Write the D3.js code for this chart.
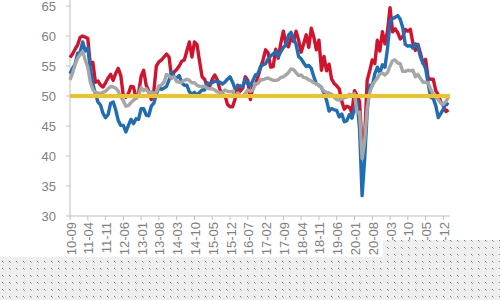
<!DOCTYPE html>
<html>
<head>
<meta charset="utf-8">
<script src="https://cdn.jsdelivr.net/npm/d3@7"></script>
<style>
  body { margin: 0; background: #fff; }
  svg { display: block; font-family: "Liberation Sans", Arial, sans-serif; }
</style>
</head>
<body>
<div id="chart"></div>
<script>
// monthly values, 2010-09 .. 2023-02
var red = [
  56.4, 57.0, 57.8, 58.5,
  59.8, 60.0, 59.8, 59.6, 55.2, 55.6, 52.3, 52.5, 51.8, 51.5, 52.2, 53.0,
  53.6, 52.6, 53.8, 54.6, 53.4, 50.0, 49.8, 50.4, 51.6, 51.5, 49.6, 50.4,
  53.3, 54.3, 51.8, 50.8, 49.4, 50.8, 55.0, 55.7, 56.0, 56.5, 57.0, 56.5,
  53.0, 54.0, 54.4, 55.0, 55.8, 56.0, 57.5, 59.0, 56.5, 59.0, 58.6, 55.8,
  53.2, 52.8, 51.6, 51.6, 52.8, 53.5, 52.7, 51.1, 50.2, 50.1, 48.6, 48.2,
  48.2, 49.5, 51.8, 50.8, 51.3, 53.2, 52.6, 49.4, 51.5, 51.9, 53.2, 54.7,
  56.0, 57.7, 57.2, 54.8, 54.9, 57.8, 56.3, 58.8, 60.8, 58.7, 58.2, 59.7,
  59.1, 60.8, 59.3, 57.3, 58.7, 60.2, 58.1, 61.3, 59.8, 57.7, 59.3, 54.3,
  56.6, 54.2, 55.3, 52.8, 52.1, 51.7, 51.2, 49.1, 47.8, 48.3, 48.1, 47.2,
  50.9, 50.1, 49.1, 41.5, 43.1, 52.6, 54.2, 56.0, 55.4, 59.3, 57.5, 60.7,
  58.7, 60.8, 64.7, 60.7, 61.2, 60.6, 59.5, 59.9, 61.1, 60.8, 61.1, 58.8,
  57.6, 58.6, 57.1, 55.4, 56.1, 53.0, 52.8, 52.8, 50.9, 50.2, 49.0, 48.4,
  47.4, 47.7
];
var blue = [
  53.7, 54.6, 55.3, 57.1,
  57.3, 59.0, 57.5, 58.0, 54.6, 52.0, 50.4, 49.0, 48.5, 47.1, 46.4, 46.9,
  48.8, 49.0, 47.7, 45.9, 45.1, 45.1, 44.0, 45.1, 46.1, 45.4, 46.2, 46.1,
  47.9, 47.9, 46.8, 46.7, 48.3, 48.8, 50.3, 51.4, 51.1, 51.3, 51.6, 52.7,
  54.0, 53.2, 53.0, 53.4, 52.2, 51.8, 51.8, 50.7, 50.3, 50.6, 50.1, 50.6,
  51.0, 51.0, 52.2, 52.0, 52.2, 52.5, 52.4, 52.3, 52.0, 52.3, 52.8, 53.2,
  52.3, 51.2, 51.6, 51.7, 51.5, 52.8, 52.0, 51.7, 52.6, 53.5, 53.7, 54.9,
  55.2, 55.4, 56.2, 56.7, 57.0, 57.4, 56.6, 57.4, 58.1, 58.5, 60.1, 60.6,
  59.6, 58.6, 56.6, 56.2, 55.5, 54.9, 55.1, 54.6, 53.2, 52.0, 51.8, 51.4,
  50.5, 49.3, 47.5, 47.9, 47.7, 47.6, 46.5, 47.0, 45.7, 45.9, 46.9, 46.3,
  47.9, 49.2, 44.5, 33.4, 39.4, 47.4, 51.8, 51.7, 53.7, 54.8, 53.8, 55.2,
  54.8, 57.9, 62.5, 62.9, 63.1, 63.4, 62.8, 61.4, 58.6, 58.3, 58.4, 58.0,
  58.7, 58.2, 56.5, 55.5, 54.6, 52.1, 49.8, 49.6, 48.4, 46.4, 47.1, 47.8,
  48.8, 48.5
];
var grey = [
  52.7, 53.8, 55.2, 56.3,
  56.9, 57.4, 56.0, 54.8, 52.3, 51.1, 50.6, 50.5, 50.4, 50.6, 50.8, 51.2,
  51.6, 51.5, 51.3, 50.8, 49.9, 49.2, 48.3, 48.4, 48.9, 49.3, 49.6, 50.1,
  51.4, 50.9, 51.2, 50.5, 50.7, 50.4, 50.7, 51.7, 51.8, 52.3, 53.6, 53.3,
  53.0, 53.2, 52.4, 52.3, 52.3, 52.6, 52.8, 52.6, 52.2, 52.2, 51.8, 51.6,
  51.6, 51.6, 51.3, 51.2, 51.2, 51.0, 50.7, 50.6, 50.6, 51.0, 50.8, 50.7,
  50.8, 50.0, 50.5, 50.1, 50.0, 50.4, 51.0, 50.8, 51.0, 52.0, 52.1, 52.7,
  52.7, 52.9, 53.0, 52.8, 52.6, 52.6, 52.7, 53.1, 53.2, 53.5, 53.9, 54.5,
  54.4, 53.9, 53.4, 53.5, 53.1, 53.0, 52.7, 52.5, 52.2, 52.0, 51.8, 51.4,
  50.8, 50.6, 50.5, 50.3, 49.8, 49.4, 49.3, 49.5, 49.7, 49.8, 50.3, 50.1,
  50.4, 47.2, 47.3, 39.6, 42.4, 47.9, 50.6, 51.8, 52.4, 53.0, 53.7, 53.8,
  53.5, 53.9, 55.0, 55.9, 56.0, 55.5, 55.4, 54.1, 54.1, 54.3, 54.2, 54.3,
  53.2, 53.6, 52.9, 52.3, 52.3, 52.2, 51.1, 50.3, 49.8, 49.4, 48.8, 48.6,
  49.1, 49.9
];
var refLevel = 50;
var yTicks = [30, 35, 40, 45, 50, 55, 60, 65];
var xTickLabels = ["10-09", "11-04", "11-11", "12-06", "13-01", "13-08", "14-03",
  "14-10", "15-05", "15-12", "16-07", "17-02", "17-09", "18-04", "18-11", "19-06",
  "20-01", "20-08", "21-03", "21-10", "22-05", "22-12"];
var tickStep = 7; // months between labels

var width = 500, height = 300;

var svg = d3.select("#chart").append("svg")
  .attr("width", width)
  .attr("height", height);

var x = d3.scaleLinear().domain([0, 150]).range([70, 451]);
var y = d3.scaleLinear().domain([30, 65]).range([216, 6]);

var axisColor = "#bfbfbf";
var textColor = "#808080";

// y axis
svg.append("line")
  .attr("x1", 70).attr("x2", 70)
  .attr("y1", 0).attr("y2", y(30))
  .attr("stroke", axisColor).attr("stroke-width", 1);

svg.selectAll(".ytick")
  .data(yTicks)
  .enter().append("line")
  .attr("x1", 66).attr("x2", 70)
  .attr("y1", d => y(d)).attr("y2", d => y(d))
  .attr("stroke", axisColor);

svg.selectAll(".ylabel")
  .data(yTicks)
  .enter().append("text")
  .attr("x", 56)
  .attr("y", d => y(d))
  .attr("text-anchor", "end")
  .attr("dominant-baseline", "central")
  .attr("font-size", "13px")
  .attr("fill", textColor)
  .text(d => d);

// x axis
svg.append("line")
  .attr("x1", 70).attr("x2", 450)
  .attr("y1", y(30)).attr("y2", y(30))
  .attr("stroke", axisColor);

svg.selectAll(".xtick")
  .data(xTickLabels)
  .enter().append("line")
  .attr("x1", (d, i) => x(i * tickStep)).attr("x2", (d, i) => x(i * tickStep))
  .attr("y1", y(30)).attr("y2", y(30) + 4)
  .attr("stroke", axisColor);

svg.selectAll(".xlabel")
  .data(xTickLabels)
  .enter().append("text")
  .attr("transform", (d, i) => `translate(${x(i * tickStep) + 1},${y(30) + 6}) rotate(-90)`)
  .attr("text-anchor", "end")
  .attr("dominant-baseline", "central")
  .attr("font-size", "13px")
  .attr("fill", textColor)
  .text(d => d);

// series
var line = d3.line()
  .x((d, i) => x(i))
  .y(d => y(d));

var series = [
  { values: red, color: "#d2132d" },
  { values: blue, color: "#1f6db4" },
  { values: grey, color: "#a6a6a6" }
];

svg.selectAll(".series")
  .data(series)
  .enter().append("path")
  .attr("d", d => line(d.values))
  .attr("fill", "none")
  .attr("stroke", d => d.color)
  .attr("stroke-width", 3.4)
  .attr("stroke-linejoin", "round");

svg.append("line")
  .attr("x1", x(0)).attr("x2", 450)
  .attr("y1", y(refLevel)).attr("y2", y(refLevel))
  .attr("stroke", "#eec22a")
  .attr("stroke-width", 4);

// dotted grey band along the bottom of the picture
var defs = svg.append("defs");
var pat = defs.append("pattern")
  .attr("id", "dots")
  .attr("width", 7).attr("height", 7)
  .attr("patternUnits", "userSpaceOnUse");
pat.append("rect").attr("width", 7).attr("height", 7).attr("fill", "#efefef");
pat.append("rect").attr("x", 2).attr("y", 2).attr("width", 1).attr("height", 1).attr("fill", "#7a7a7a");
pat.append("rect").attr("x", 3).attr("y", 3).attr("width", 1).attr("height", 1).attr("fill", "#b0b0b0");

svg.append("rect")
  .attr("x", 0).attr("y", 257).attr("width", 500).attr("height", 43)
  .attr("fill", "url(#dots)");
svg.append("rect")
  .attr("x", 383).attr("y", 240).attr("width", 117).attr("height", 18)
  .attr("fill", "url(#dots)");
</script>
</body>
</html>
